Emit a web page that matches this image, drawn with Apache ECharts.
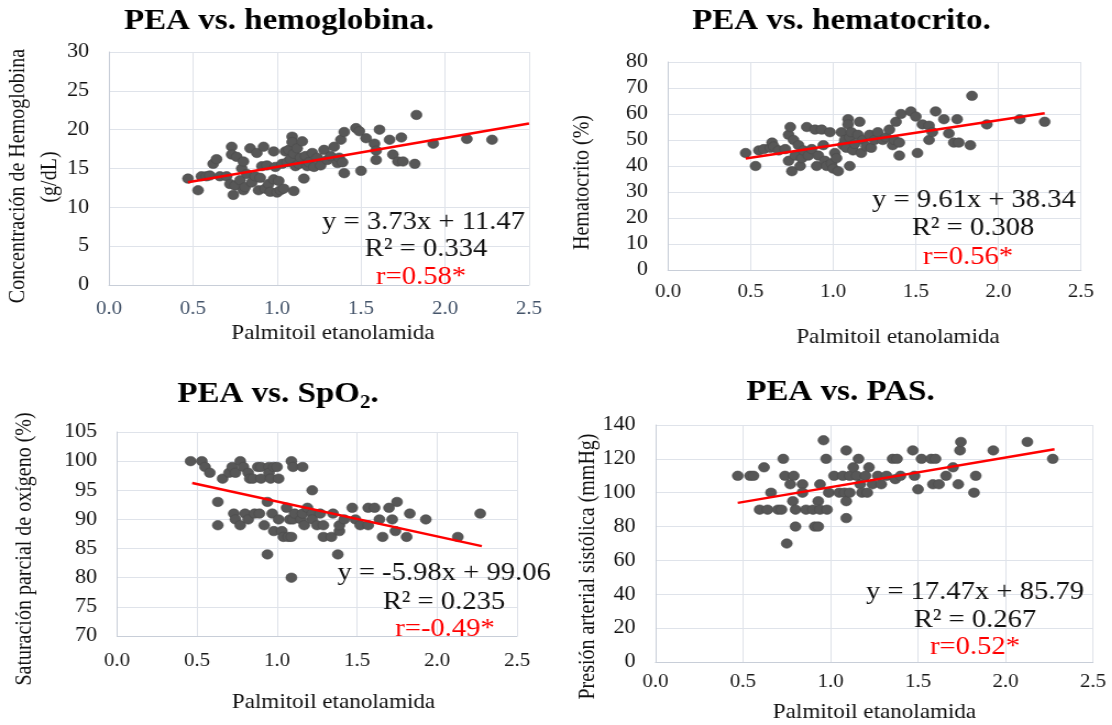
<!DOCTYPE html>
<html>
<head>
<meta charset="utf-8">
<script src="https://cdn.jsdelivr.net/npm/echarts@6/dist/echarts.min.js"></script>
<style>
  html, body { margin: 0; padding: 0; background: #ffffff; overflow: hidden; }
  #wrap { position: absolute; left: 0; top: 0; width: 1011px; height: 725px; transform: scaleX(1.1); transform-origin: 0 0; }
  #chart { width: 1011px; height: 725px; }
</style>
</head>
<body>
<div id="wrap"><div id="chart"></div></div>
<script>
// ---------------- DATA ----------------
const xTicks = [0.0, 0.5, 1.0, 1.5, 2.0, 2.5];

const hemoglobina = [
  [0.47,13.7],[0.53,12.2],[0.55,14.0],[0.58,14.0],[0.60,14.1],[0.62,15.6],[0.64,16.2],[0.66,14.0],[0.70,14.0],[0.72,13.0],
  [0.73,17.8],[0.73,16.8],[0.74,11.6],[0.75,12.8],[0.76,16.5],[0.78,13.5],[0.79,15.0],[0.80,15.9],[0.80,12.2],[0.81,12.6],
  [0.82,14.3],[0.84,17.6],[0.85,13.2],[0.87,14.0],[0.88,17.0],[0.89,12.2],[0.90,13.8],[0.91,15.3],[0.92,17.8],[0.93,12.4],
  [0.94,15.4],[0.95,13.0],[0.96,12.0],[0.98,17.2],[0.98,13.6],[0.99,15.2],[1.00,11.9],[1.01,13.4],[1.02,12.2],[1.03,15.6],
  [1.04,12.4],[1.05,17.2],[1.06,15.8],[1.07,17.4],[1.08,16.2],[1.09,19.1],[1.09,18.4],[1.10,12.1],[1.10,16.9],[1.11,15.3],
  [1.12,17.6],[1.13,15.6],[1.14,16.4],[1.15,18.5],[1.16,13.7],[1.17,16.6],[1.18,15.3],[1.19,15.8],[1.21,17.0],[1.22,15.2],
  [1.24,16.4],[1.26,15.4],[1.28,17.4],[1.30,16.1],[1.32,16.6],[1.34,17.8],[1.36,15.7],[1.37,16.4],[1.38,18.7],[1.39,15.8],
  [1.40,19.7],[1.40,14.4],[1.47,20.2],[1.49,19.8],[1.50,14.7],[1.53,18.9],[1.58,18.2],[1.59,17.3],[1.59,16.1],[1.61,20.0],
  [1.67,18.7],[1.69,16.8],[1.72,15.9],[1.74,19.0],[1.75,15.9],[1.82,15.6],[1.83,21.9],[1.93,18.2],[2.13,18.8],[2.28,18.7]
];

const hematocrito = [
  [0.47,45],[0.53,40],[0.55,46],[0.58,46.5],[0.62,47],[0.63,49],[0.64,47.5],[0.67,46],[0.71,46.5],[0.73,52],
  [0.74,55],[0.73,42],[0.75,38],[0.76,50],[0.77,44],[0.79,48],[0.80,40],[0.81,43],[0.82,46],[0.84,55],
  [0.85,44],[0.87,46.5],[0.89,54],[0.90,40],[0.91,44],[0.93,54],[0.94,48],[0.95,42],[0.96,40],[0.98,53],
  [0.99,41],[1.00,39],[1.01,45],[1.02,43],[1.03,38],[1.05,53],[1.06,48],[1.07,50],[1.08,47],[1.09,58],
  [1.09,56],[1.10,40],[1.10,51],[1.11,53],[1.12,46],[1.13,48.5],[1.15,52],[1.16,57],[1.17,45],[1.18,50],
  [1.20,47.5],[1.22,52],[1.23,47],[1.25,50],[1.27,53],[1.30,50],[1.32,51],[1.34,54],[1.36,48],[1.37,50],
  [1.38,57],[1.40,49],[1.41,60],[1.40,44],[1.47,61],[1.50,59],[1.51,45],[1.54,56],[1.58,55.5],[1.58,50],
  [1.60,53],[1.62,61],[1.67,58],[1.70,52.5],[1.73,49],[1.75,58],[1.76,49],[1.83,48],[1.84,67],[1.93,56],
  [2.13,58],[2.28,57]
];

const spo2 = [
  [0.46,100],[0.53,100],[0.55,99],[0.58,98],[0.63,93],[0.63,89],[0.66,97],[0.70,98],[0.72,99],[0.74,98],
  [0.73,91],[0.74,90],[0.77,89],[0.77,100],[0.79,99],[0.80,91],[0.82,98],[0.82,90],[0.83,97],[0.85,97],
  [0.86,91],[0.88,99],[0.90,99],[0.89,91],[0.90,97],[0.92,89],[0.94,93],[0.95,99],[0.95,98],[0.94,84],
  [0.96,97],[0.97,91],[0.98,99],[0.98,88],[1.00,99],[1.01,97],[1.01,90],[1.03,88],[1.04,87],[1.06,92],
  [1.07,87],[1.08,90],[1.09,100],[1.09,80],[1.10,99],[1.10,90],[1.09,87],[1.11,91],[1.15,90],[1.16,99],
  [1.16,91],[1.17,89],[1.19,92],[1.22,95],[1.22,91],[1.22,90],[1.25,89],[1.27,91],[1.29,89],[1.29,87],
  [1.34,87],[1.35,91],[1.38,84],[1.39,88],[1.39,89],[1.42,90],[1.47,92],[1.49,90],[1.52,89],[1.57,89],
  [1.57,92],[1.61,92],[1.64,90],[1.66,87],[1.70,92],[1.72,90],[1.74,88],[1.75,93],[1.81,87],[1.83,91],
  [1.93,90],[2.13,87],[2.27,91]
];

const pas = [
  [0.47,110],[0.54,110],[0.56,110],[0.595,90],[0.64,90],[0.62,115],[0.66,100],[0.70,90],[0.72,90],[0.73,120],
  [0.74,110],[0.75,70],[0.77,105],[0.785,95],[0.79,110],[0.80,90],[0.80,80],[0.84,105],[0.84,100],[0.86,90],
  [0.90,90],[0.91,80],[0.93,95],[0.93,80],[0.94,105],[0.96,131],[0.94,90],[0.975,120],[0.99,100],[0.98,90],
  [1.02,110],[1.05,100],[1.07,110],[1.08,100],[1.09,125],[1.09,85],[1.09,95],[1.11,100],[1.11,110],[1.13,115],
  [1.16,120],[1.15,110],[1.17,105],[1.18,100],[1.22,115],[1.20,110],[1.21,100],[1.24,105],[1.27,110],[1.29,105],
  [1.32,110],[1.355,120],[1.37,108],[1.38,120],[1.40,110],[1.47,125],[1.48,110],[1.50,102],[1.52,120],[1.575,120],
  [1.585,105],[1.60,120],[1.62,105],[1.66,110],[1.70,115],[1.73,105],[1.74,125],[1.745,130],[1.82,100],[1.83,110],
  [1.93,125],[2.125,130],[2.27,120]
];

const panelTitles = ['PEA vs. hemoglobina.', 'PEA vs. hematocrito.', '{a|PEA vs. SpO}{b|2}{a|.}', 'PEA vs. PAS.'];
const xAxisTitle = 'Palmitoil etanolamida';
const yAxisTitles = [['Concentración de Hemoglobina', '(g/dL)'], ['Hematocrito (%)'], ['Saturación parcial de oxígeno (%)'], ['Presión arterial sistólica (mmHg)']];
const slopes = [3.73, 9.61, -5.98, 17.47];
const intercepts = [11.47, 38.34, 99.06, 85.79];
const trendFrom = [0.47, 0.47, 0.47, 0.47];
const trendTo = [2.5, 2.28, 2.28, 2.28];
const eqLabels = ['y = 3.73x + 11.47', 'y = 9.61x + 38.34', 'y = -5.98x + 99.06', 'y = 17.47x + 85.79'];
const r2Labels = ['R\u00B2 = 0.334', 'R\u00B2 = 0.308', 'R\u00B2 = 0.235', 'R\u00B2 = 0.267'];
const rLabels = ['r=0.58*', 'r=0.56*', 'r=-0.49*', 'r=0.52*'];
const yMin = [0, 0, 70, 0];
const yMax = [30, 80, 105, 140];
const yStep = [5, 10, 5, 20];

// ---------------- LAYOUT ----------------
const S = 1.1;
const X = px => px / S;
const FONT = '"Liberation Serif", "Times New Roman", serif';
const series = [hemoglobina, hematocrito, spo2, pas];

// plot boxes in page pixels: left, right, top, bottom
const boxes = [
  { l: 109, r: 529, t: 52, b: 285, xm: 15, xc: '#44546a' },
  { l: 668, r: 1081, t: 62, b: 270, xm: 13, xc: '#1a1a1a' },
  { l: 117, r: 517, t: 432, b: 636, xm: 16, xc: '#1a1a1a' },
  { l: 655.5, r: 1093, t: 425, b: 662, xm: 11, xc: '#1a1a1a' }
];
const titlePos = [[279, 21], [841.5, 21], [278, 392], [840.5, 392]];
const xTitlePos = [[333, 333], [898, 337], [333.5, 702], [874.5, 712]];
const yTitlePos = [[[18, 176], [50, 177]], [[583, 182.5]], [[25, 549]], [[588, 566.5]]];
const eqPos = [
  [[423.5, 221.7], [426, 249.3], [421, 277.3]],
  [[974, 200], [973, 228.3], [968, 256.7]],
  [[444, 573.3], [444, 601.7], [445, 629.3]],
  [[975, 591.7], [975, 620], [975, 646.7]]
];

const grids = [], xAxes = [], yAxes = [], allSeries = [], graphics = [];

boxes.forEach((bx, i) => {
  grids.push({ left: X(bx.l), top: bx.t, width: X(bx.r - bx.l), height: bx.b - bx.t });
  xAxes.push({
    type: 'value', gridIndex: i, min: xTicks[0], max: xTicks[xTicks.length - 1], interval: 0.5,
    axisLine: { show: true, onZero: false, lineStyle: { color: '#c8ced8', width: 1 } },
    axisTick: { show: false },
    splitLine: { show: true, lineStyle: { color: '#dfe3ea', width: 1 } },
    axisLabel: { formatter: v => v.toFixed(1), fontSize: 19, fontFamily: FONT, color: bx.xc, margin: bx.xm }
  });
  yAxes.push({
    type: 'value', gridIndex: i, min: yMin[i], max: yMax[i], interval: yStep[i],
    axisLine: { show: true, onZero: false, lineStyle: { color: '#c8ced8', width: 1 } },
    axisTick: { show: false },
    splitLine: { show: true, lineStyle: { color: '#dfe3ea', width: 1 } },
    axisLabel: { fontSize: 20, fontFamily: FONT, color: '#111111', margin: X(20) }
  });
  allSeries.push({
    type: 'scatter', xAxisIndex: i, yAxisIndex: i, data: series[i],
    symbol: 'circle', symbolSize: [10, 9.5],
    itemStyle: { color: '#575757', borderColor: '#4b4b4b', borderWidth: 0.6, opacity: 1 },
    z: 2, silent: true
  });
  allSeries.push({
    type: 'line', xAxisIndex: i, yAxisIndex: i,
    data: [[trendFrom[i], slopes[i] * trendFrom[i] + intercepts[i]], [trendTo[i], slopes[i] * trendTo[i] + intercepts[i]]],
    showSymbol: false, symbol: 'none',
    lineStyle: { color: '#ff0000', width: 2.5 },
    z: 3, silent: true
  });

  // chart title
  graphics.push({
    type: 'text', x: X(titlePos[i][0]), y: titlePos[i][1],
    style: {
      text: panelTitles[i], align: 'center', verticalAlign: 'middle',
      fontFamily: FONT, fontSize: 30, fontWeight: 'bold', fill: '#000000',
      rich: {
        a: { fontFamily: FONT, fontSize: 30, fontWeight: 'bold', fill: '#000000', lineHeight: 34, verticalAlign: 'bottom' },
        b: { fontFamily: FONT, fontSize: 19, fontWeight: 'bold', fill: '#000000', lineHeight: 22, verticalAlign: 'bottom', padding: [0, 0, -4, 0] }
      }
    }
  });
  // x axis title
  graphics.push({
    type: 'text', x: X(xTitlePos[i][0]), y: xTitlePos[i][1],
    style: { text: xAxisTitle, align: 'center', verticalAlign: 'middle', fontFamily: FONT, fontSize: 21, fill: '#111111' }
  });
  // y axis titles (rotated)
  yAxisTitles[i].forEach((t, k) => {
    graphics.push({
      type: 'text', x: X(yTitlePos[i][k][0]), y: yTitlePos[i][k][1], rotation: Math.PI / 2,
      style: { text: t, align: 'center', verticalAlign: 'middle', fontFamily: FONT, fontSize: 20, fill: '#111111' }
    });
  });
  // trendline annotations
  const labs = [eqLabels[i], r2Labels[i], rLabels[i]];
  labs.forEach((t, k) => {
    graphics.push({
      type: 'text', x: X(eqPos[i][k][0]), y: eqPos[i][k][1], z: 10,
      style: { text: t, align: 'center', verticalAlign: 'middle', fontFamily: FONT, fontSize: 26, fill: k === 2 ? '#ff0000' : '#111111' }
    });
  });
});

const chart = echarts.init(document.getElementById('chart'), null, { renderer: 'canvas' });
chart.setOption({
  animation: false,
  backgroundColor: '#ffffff',
  grid: grids,
  xAxis: xAxes,
  yAxis: yAxes,
  series: allSeries,
  graphic: graphics
});
</script>
</body>
</html>
